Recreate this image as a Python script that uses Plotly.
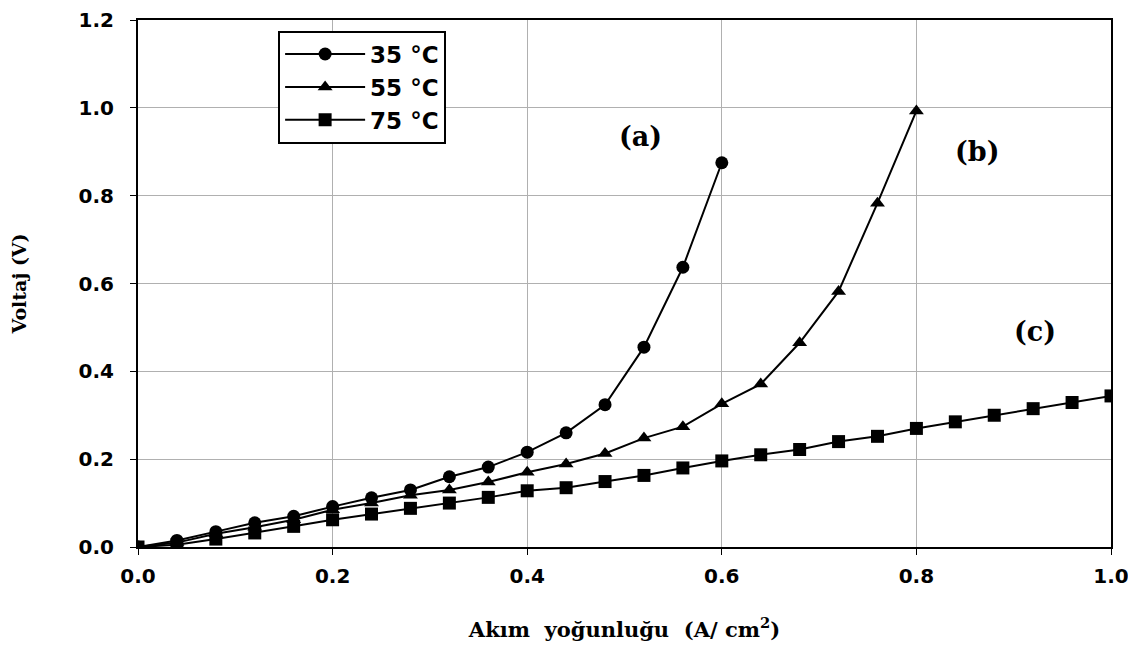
import plotly.graph_objects as go

x35 = [0.00, 0.04, 0.08, 0.12, 0.16, 0.20, 0.24, 0.28, 0.32, 0.36, 0.40, 0.44, 0.48, 0.52, 0.56, 0.60]
y35 = [0.000, 0.015, 0.035, 0.055, 0.070, 0.092, 0.112, 0.130, 0.160, 0.182, 0.216, 0.260, 0.324, 0.455, 0.637, 0.875]

x55 = [0.00, 0.04, 0.08, 0.12, 0.16, 0.20, 0.24, 0.28, 0.32, 0.36, 0.40, 0.44, 0.48, 0.52, 0.56, 0.60,
       0.64, 0.68, 0.72, 0.76, 0.80]
y55 = [0.000, 0.010, 0.030, 0.045, 0.062, 0.085, 0.100, 0.118, 0.130, 0.148, 0.170, 0.189, 0.213, 0.248,
       0.274, 0.326, 0.371, 0.465, 0.582, 0.783, 0.993]

x75 = [0.00, 0.04, 0.08, 0.12, 0.16, 0.20, 0.24, 0.28, 0.32, 0.36, 0.40, 0.44, 0.48, 0.52, 0.56, 0.60,
       0.64, 0.68, 0.72, 0.76, 0.80, 0.84, 0.88, 0.92, 0.96, 1.00]
y75 = [0.000, 0.005, 0.018, 0.032, 0.047, 0.062, 0.075, 0.088, 0.100, 0.113, 0.128, 0.135, 0.149, 0.163,
       0.180, 0.196, 0.210, 0.222, 0.240, 0.252, 0.270, 0.285, 0.300, 0.315, 0.329, 0.344]

series_names = ["35 °C", "55 °C", "75 °C"]
labels = ["(a)", "(b)", "(c)"]
label_x = [0.516, 0.862, 0.922]
label_y = [0.935, 0.900, 0.490]

SERIF = "DejaVu Serif"
SANS = "DejaVu Sans"

fig = go.Figure()
for xs, ys, name, sym in [(x35, y35, series_names[0], "circle"),
                          (x55, y55, series_names[1], "triangle-up"),
                          (x75, y75, series_names[2], "square")]:
    fig.add_trace(go.Scatter(
        x=xs, y=ys, name=name, mode="lines+markers",
        line=dict(color="black", width=2),
        marker=dict(symbol=sym, size=13, color="black"),
    ))

for t, lx, ly in zip(labels, label_x, label_y):
    fig.add_annotation(x=lx, y=ly, text="<b>" + t + "</b>", showarrow=False,
                       font=dict(family=SERIF, size=27, color="black"))

axis_common = dict(
    showline=True, linecolor="black", linewidth=2, mirror=True,
    showgrid=True, gridcolor="#b0b0b0", gridwidth=1,
    ticks="outside", ticklen=6, tickcolor="black", tickwidth=1,
    zeroline=False, automargin=False, ticklabeloverflow="allow",
    tickfont=dict(family=SANS, size=20, color="black", weight="bold"),
)

fig.update_xaxes(range=[0, 1.0], tickvals=[0, 0.2, 0.4, 0.6, 0.8, 1.0],
                 ticktext=["0.0", "0.2", "0.4", "0.6", "0.8", "1.0"],
                 ticklabelstandoff=4,
                 title=dict(text="<b>Akım  yoğunluğu  (A/ cm<sup>2</sup>)</b>",
                            font=dict(family=SERIF, size=21, color="black"),
                            standoff=38),
                 **axis_common)
fig.update_yaxes(range=[0, 1.2], tickvals=[0, 0.2, 0.4, 0.6, 0.8, 1.0, 1.2],
                 ticktext=["0.0", "0.2", "0.4", "0.6", "0.8", "1.0", "1.2"],
                 ticklabelstandoff=12,
                 title=dict(text="<b>Voltaj (V)</b>",
                            font=dict(family=SERIF, size=19, color="black"),
                            standoff=50),
                 **axis_common)

fig.update_layout(
    width=1120, height=634,
    margin=dict(l=130, r=17, t=12, b=95),
    plot_bgcolor="white", paper_bgcolor="white",
    legend=dict(x=0.144, y=0.98, xanchor="left", yanchor="top",
                bordercolor="black", borderwidth=2, bgcolor="white",
                font=dict(family=SANS, size=23, color="black", weight="bold"),
                itemwidth=80, tracegroupgap=0),
)

fig.write_html("out.html")
